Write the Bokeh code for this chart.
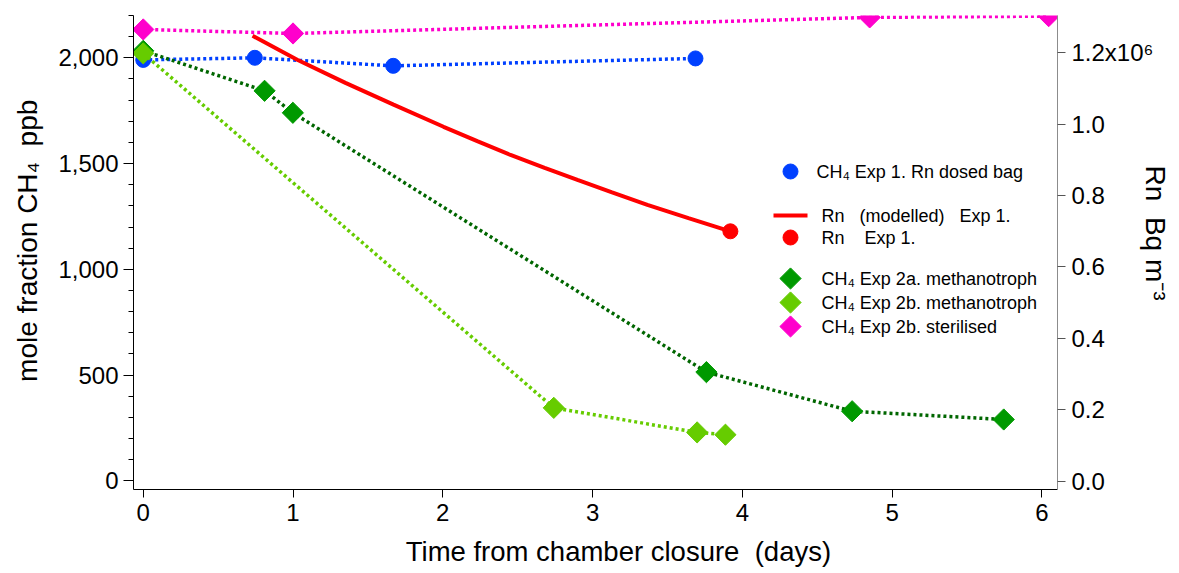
import numpy as np
from bokeh.plotting import figure
from bokeh.models import Range1d, LinearAxis, FixedTicker, NumeralTickFormatter
from bokeh.embed import file_html
from bokeh.resources import INLINE
from bokeh.core.properties import value

FONT = "Liberation Sans"

# ---------------- data ----------------
# CH4 Exp 1, Rn dosed bag (ppb)
days_exp1 = [0.0, 0.745, 1.669, 3.687]
ch4_exp1 = [1990, 2000, 1962, 1997]

# CH4 Exp 2a, methanotroph (ppb)
days_exp2a = [0.0, 0.810, 0.999, 3.760, 4.733, 5.745]
ch4_exp2a = [2033, 1844, 1740, 514, 329, 290]

# CH4 Exp 2b, methanotroph (ppb)
days_exp2b = [0.0, 2.741, 3.698, 3.887]
ch4_exp2b = [2021, 345, 229, 218]

# CH4 Exp 2b, sterilised (ppb)
days_steril = [0.0, 1.000, 4.850, 6.045]
ch4_steril = [2134, 2115, 2191, 2197]

# Rn modelled, Exp 1 (10^6 Bq m-3)
days_rn_model = [0.730, 1.028, 1.350, 1.671, 2.005, 2.230, 2.452, 2.680, 2.899,
                 3.130, 3.366, 3.640, 3.920]
rn_model = [1.248, 1.181, 1.116, 1.055, 0.993, 0.953, 0.914, 0.878, 0.844,
            0.809, 0.774, 0.737, 0.700]

# Rn measured, Exp 1 (10^6 Bq m-3)
days_rn_meas = [3.920]
rn_meas = [0.700]

x_ticks = [0, 1, 2, 3, 4, 5, 6]
ch4_ticks = [0, 500, 1000, 1500, 2000]
ch4_minor = list(range(0, 2201, 100))
rn_ticks = [0.0, 0.2, 0.4, 0.6, 0.8, 1.0, 1.2]
rn_tick_labels = ["0.0", "0.2", "0.4", "0.6", "0.8", "1.0", "1.2x10\u2076"]

legend_labels = [
    "CH\u2084 Exp 1. Rn dosed bag",
    "Rn\u00a0\u00a0 (modelled)\u00a0\u00a0 Exp 1.",
    "Rn\u00a0\u00a0\u00a0 Exp 1.",
    "CH\u2084 Exp 2a. methanotroph",
    "CH\u2084 Exp 2b. methanotroph",
    "CH\u2084 Exp 2b. sterilised",
]

NB = "\u00a0"
x_title = NB * 6 + "Time from chamber closure" + NB * 2 + "(days)"
y_title = NB * 3 + "mole fraction CH\u2084" + NB * 2 + "ppb"
y2_title = "Rn" + NB * 2 + "Bq m\u207B\u00B3" + NB * 5

# ---------------- styles ----------------
BLUE = "#0040FF"
RED = "#FF0000"
DKGREEN_M = "#009900"
DKGREEN_L = "#006600"
LTGREEN = "#66CC00"
MAGENTA = "#FF00CC"

FRAME_W, FRAME_H = 924, 474

p = figure(frame_width=FRAME_W, frame_height=FRAME_H,
           output_backend="svg", toolbar_location=None,
           x_range=Range1d(-0.065, 6.104), y_range=Range1d(-41, 2200),
           min_border_left=133, min_border_right=122,
           min_border_top=15, min_border_bottom=84)
p.outline_line_color = None
p.grid.visible = False
p.background_fill_color = "white"
p.border_fill_color = "white"
p.extra_y_ranges = {"rn": Range1d(-0.0238, 1.305), "fy": Range1d(0, FRAME_H)}
p.extra_x_ranges = {"fx": Range1d(0, FRAME_W)}

def style_axis(ax, size="24px"):
    ax.major_label_text_font = FONT
    ax.major_label_text_font_size = size
    ax.major_label_text_color = "black"
    ax.axis_label_text_font = FONT
    ax.axis_label_text_font_style = "normal"
    ax.axis_label_text_color = "black"
    ax.major_tick_in = 0
    ax.minor_tick_in = 0

# x axis
xa = p.xaxis[0]
xa.ticker = FixedTicker(ticks=x_ticks, minor_ticks=[])
style_axis(xa)
xa.major_tick_out = 8
xa.minor_tick_out = 0
xa.major_label_standoff = 6
xa.axis_line_color = "black"
xa.axis_label = x_title
xa.axis_label_text_font_size = "27.5px"
xa.axis_label_standoff = 12

# left axis
ya = p.yaxis[0]
ya.ticker = FixedTicker(ticks=ch4_ticks, minor_ticks=ch4_minor)
ya.formatter = NumeralTickFormatter(format="0,0")
style_axis(ya)
ya.major_tick_out = 10
ya.minor_tick_out = 5
ya.major_label_standoff = 5
ya.axis_label = y_title
ya.axis_label_text_font_size = "28px"
ya.axis_label_standoff = 12

# right axis
ra = LinearAxis(y_range_name="rn",
                ticker=FixedTicker(ticks=rn_ticks, minor_ticks=[]),
                major_label_overrides={t: l for t, l in zip(rn_ticks, rn_tick_labels)})
style_axis(ra)
ra.major_tick_out = 8
ra.minor_tick_out = 0
ra.major_label_standoff = 6
ra.axis_line_color = "#8c8c8c"
ra.major_tick_line_color = "#555555"
ra.axis_label = y2_title
ra.axis_label_text_font_size = "28px"
ra.axis_label_standoff = -16
p.add_layout(ra, "right")

# ---------------- data glyphs ----------------
LW = 3.5
DASH = "3 3"
p.line(days_exp1, ch4_exp1, line_color=BLUE, line_width=LW, line_dash=DASH)
p.scatter(days_exp1, ch4_exp1, marker="circle", size=15, fill_color=BLUE, line_color=BLUE)

p.line(days_rn_model, rn_model, y_range_name="rn", line_color=RED, line_width=4)
p.scatter(days_rn_meas, rn_meas, y_range_name="rn", marker="circle", size=15,
          fill_color=RED, line_color=RED)

p.line(days_exp2a, ch4_exp2a, line_color=DKGREEN_L, line_width=LW, line_dash=DASH)
p.scatter(days_exp2a, ch4_exp2a, marker="square", angle=np.pi / 4, size=15,
          fill_color=DKGREEN_M, line_color=DKGREEN_M)

p.line(days_exp2b, ch4_exp2b, line_color=LTGREEN, line_width=LW, line_dash=DASH)
p.scatter(days_exp2b, ch4_exp2b, marker="square", angle=np.pi / 4, size=15,
          fill_color=LTGREEN, line_color=LTGREEN)

p.line(days_steril, ch4_steril, line_color=MAGENTA, line_width=LW, line_dash=DASH)
p.scatter(days_steril, ch4_steril, marker="square", angle=np.pi / 4, size=15,
          fill_color=MAGENTA, line_color=MAGENTA)

# ---------------- legend (frame pixel coordinates) ----------------
lg_x = 657
lg_y = [318, 274, 252, 211, 187, 163]
txt_x = [683, 688, 688, 688, 688, 688]
kw = dict(x_range_name="fx", y_range_name="fy")
p.scatter([lg_x], [lg_y[0]], marker="circle", size=15, fill_color=BLUE, line_color=BLUE, **kw)
p.line([lg_x - 17, lg_x + 17], [lg_y[1], lg_y[1]], line_color=RED, line_width=4, **kw)
p.scatter([lg_x], [lg_y[2]], marker="circle", size=15, fill_color=RED, line_color=RED, **kw)
for yy, col in zip(lg_y[3:], [DKGREEN_M, LTGREEN, MAGENTA]):
    p.scatter([lg_x], [yy], marker="square", angle=np.pi / 4, size=15,
              fill_color=col, line_color=col, **kw)
p.text(x=txt_x, y=lg_y, text=legend_labels, text_font=value(FONT),
       text_font_size=value("18px"), text_baseline="middle", text_align="left",
       text_color="black", **kw)

open("out.html", "w").write(file_html(p, INLINE))
